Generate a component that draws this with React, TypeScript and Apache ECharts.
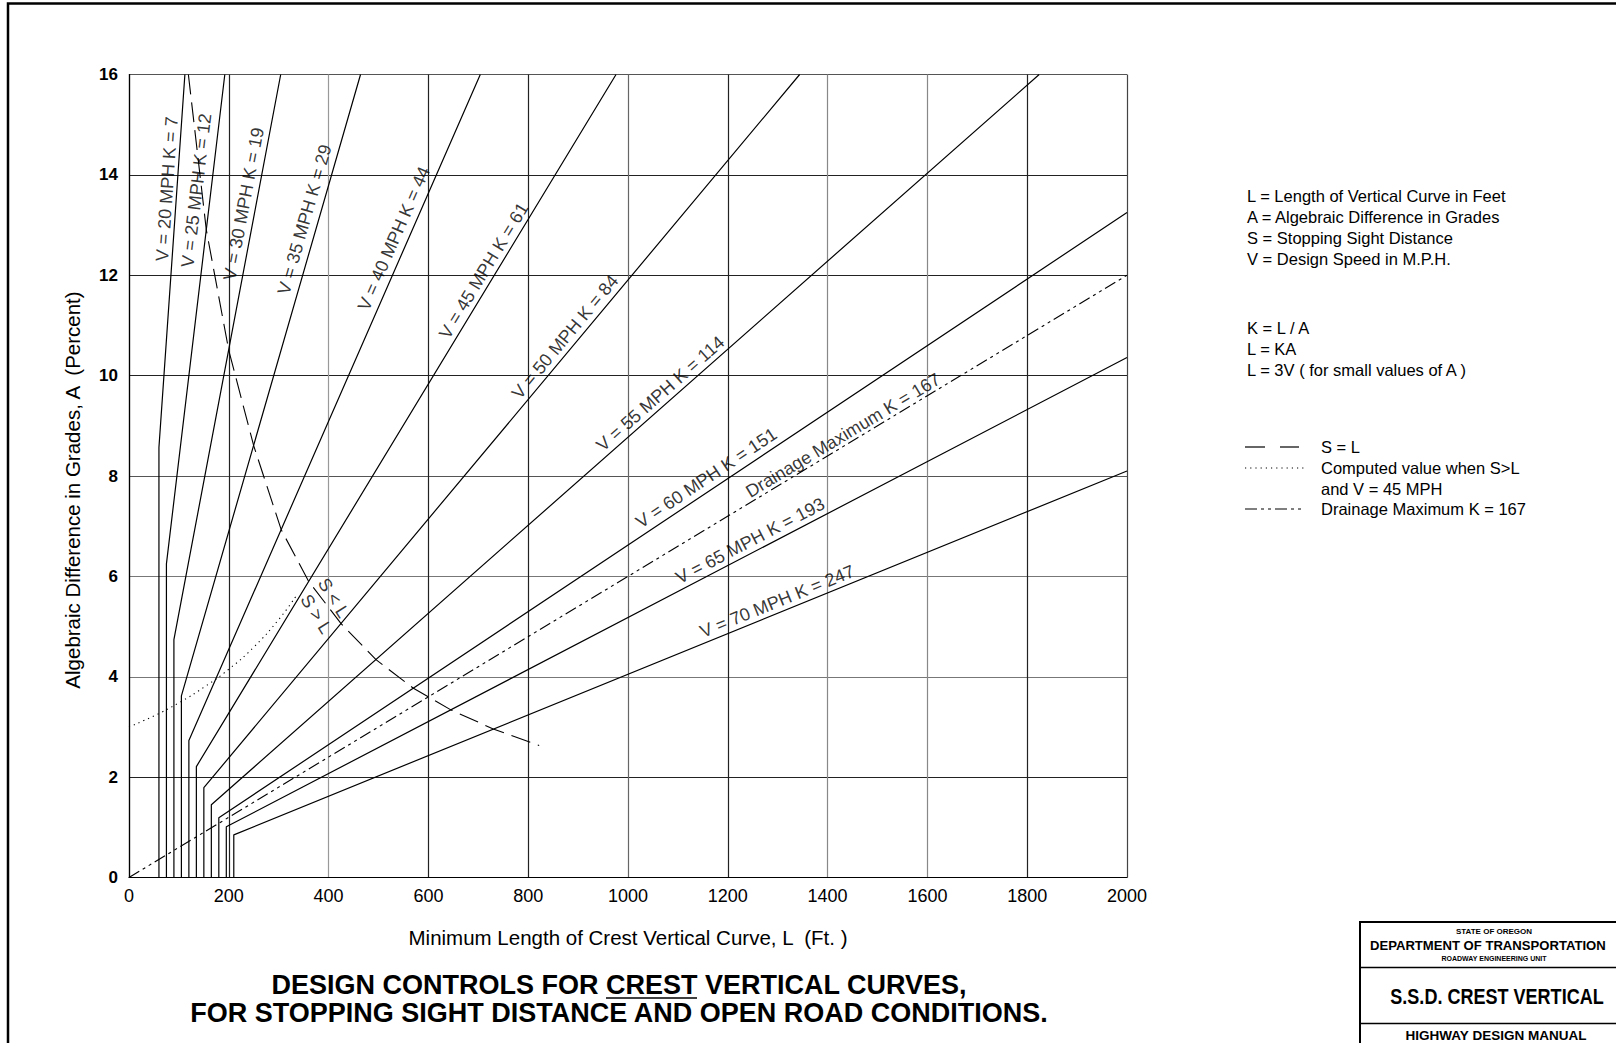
import React, { useEffect, useRef } from "react";
import * as echarts from "echarts";

// ---------- data ----------
const xTicks = [0, 200, 400, 600, 800, 1000, 1200, 1400, 1600, 1800, 2000];
const yTicks = [0, 2, 4, 6, 8, 10, 12, 14, 16];

const speeds = [20, 25, 30, 35, 40, 45, 50, 55, 60, 65, 70];
const kValues = [7, 12, 19, 29, 44, 61, 84, 114, 151, 193, 247];
// L = 3V vertical part (small A)
const baseL = [60, 75, 90, 105, 120, 135, 150, 165, 180, 195, 210];
// A where the vertical turns into the L = KA line
const kneeA = [8.57, 6.25, 4.74, 3.62, 2.73, 2.21, 1.79, 1.45, 1.19, 1.01, 0.85];
// where each line leaves the plot
const endL = [112, 192, 304, 464, 704, 976, 1344, 1824, 2000, 2000, 2000];
const endA = [16, 16, 16, 16, 16, 16, 16, 16, 13.25, 10.36, 8.1];
// label centres along each line
const labelL = [76, 135, 230, 352, 531, 711, 874, 1065, 1157, 1245, 1299];
const labelA = [13.72, 13.69, 13.42, 13.11, 12.73, 12.09, 10.77, 9.64, 7.96, 6.71, 5.5];

const drainageK = 167;
const drainageL = [0, 2000];
const drainageA = [0, 12.0];
const drainageLabelPos = [1431, 8.81];

const sEqLL = [119, 155, 200, 250, 305, 360, 425, 495, 570, 645, 730, 822];
const sEqLA = [16, 12.9, 10.5, 8.6, 6.93, 5.9, 5.06, 4.34, 3.77, 3.34, 2.96, 2.63];

const computedL = [0, 50, 100, 150, 200, 250, 300, 335];
const computedA = [3.0, 3.22, 3.48, 3.79, 4.15, 4.59, 5.14, 5.61];

const sLabels = ["S > L", "S < L"];
const sLabelL = [375, 410];
const sLabelA = [5.25, 5.57];

const notesTop = [
  "L = Length of Vertical Curve in Feet",
  "A = Algebraic Difference in Grades",
  "S = Stopping Sight Distance",
  "V = Design Speed in M.P.H.",
];
const notesMid = ["K = L / A", "L = KA", "L = 3V ( for small values of A )"];
const notesKey = ["S = L", "Computed value when S>L", "and V = 45 MPH", "Drainage Maximum K = 167"];

// ---------- layout ----------
const FONT = "'Liberation Sans', Arial, Helvetica, sans-serif";
const GL = 129;
const GT = 74.5;
const GW = 998;
const GH = 803;

export default function App() {
  const ref = useRef<HTMLDivElement>(null);

  useEffect(() => {
    if (!ref.current) return;
    const chart = echarts.init(ref.current, undefined, { renderer: "svg" });

    const pxPerL = GW / (xTicks[xTicks.length - 1] - xTicks[0]);
    const pxPerA = GH / (yTicks[yTicks.length - 1] - yTicks[0]);
    const angleFor = (k: number) => (Math.atan2(pxPerA, pxPerL * k) * 180) / Math.PI;

    const lineStyle = { color: "#000", width: 1.2 };

    const speedSeries = speeds.map((v, i) => ({
      type: "line",
      name: `V${v}`,
      data: [
        [baseL[i], 0],
        [baseL[i], kneeA[i]],
        [endL[i], endA[i]],
      ],
      symbol: "none",
      lineStyle,
      silent: true,
      z: 3,
    }));

    const labelData: any[] = speeds.map((v, i) => ({
      value: [labelL[i], labelA[i]],
      label: {
        formatter: `V = ${v} MPH K = ${kValues[i]}`,
        rotate: angleFor(kValues[i]),
      },
    }));
    labelData.push({
      value: drainageLabelPos,
      label: { formatter: `Drainage Maximum K = ${drainageK}`, rotate: angleFor(drainageK) },
    });
    sLabels.forEach((t, i) => {
      labelData.push({
        value: [sLabelL[i], sLabelA[i]],
        label: { formatter: t, rotate: -58 },
      });
    });

    const xGridColors = ["#222", "#222", "#999", "#222", "#222", "#666", "#222", "#888", "#888", "#222", "#444"];
    const yGridColors = ["#222", "#222", "#777", "#777", "#555", "#222", "#222", "#222", "#555"];

    const textEl = (
      text: string,
      x: number,
      y: number,
      size: number,
      opts: any = {}
    ) => ({
      type: "text",
      x,
      y,
      scaleX: opts.scaleX ?? 1,
      rotation: opts.rotation ?? 0,
      silent: true,
      style: {
        text,
        fill: "#000",
        fontFamily: FONT,
        fontSize: size,
        fontWeight: opts.weight ?? "normal",
        textAlign: opts.align ?? "left",
        textVerticalAlign: "middle",
      },
      z: 10,
    });

    const graphics: any[] = [];
    // page frame
    graphics.push({
      type: "polyline",
      shape: { points: [[8, 1043], [8, 3.5], [1616, 3.5]] },
      style: { stroke: "#000", lineWidth: 2.5, fill: "none" },
      silent: true,
    });
    // y axis title
    graphics.push(
      textEl("Algebraic Difference in Grades, A  (Percent)", 72, 490, 20.5, { align: "center", rotation: Math.PI / 2 })
    );
    // title
    graphics.push(textEl("DESIGN CONTROLS FOR CREST VERTICAL CURVES,", 619, 985, 27, { weight: "bold", align: "center" }));
    graphics.push(
      textEl("FOR STOPPING SIGHT DISTANCE AND OPEN ROAD CONDITIONS.", 619, 1013, 27, { weight: "bold", align: "center" })
    );
    graphics.push({
      type: "line",
      shape: { x1: 606, y1: 998, x2: 697, y2: 998 },
      style: { stroke: "#000", lineWidth: 1.6 },
      silent: true,
    });
    // notes
    const notesTopY = [196, 217, 238, 259];
    notesTop.forEach((t, i) => graphics.push(textEl(t, 1247, notesTopY[i], 16.5)));
    const notesMidY = [328, 349, 370];
    notesMid.forEach((t, i) => graphics.push(textEl(t, 1247, notesMidY[i], 16.5)));
    const notesKeyY = [447, 468, 489, 509];
    notesKey.forEach((t, i) => graphics.push(textEl(t, 1321, notesKeyY[i], 16.5)));
    // key samples
    graphics.push({ type: "line", shape: { x1: 1245, y1: 447, x2: 1265, y2: 447 }, style: { stroke: "#000", lineWidth: 1.2 } });
    graphics.push({ type: "line", shape: { x1: 1280, y1: 447, x2: 1299, y2: 447 }, style: { stroke: "#000", lineWidth: 1.2 } });
    graphics.push({
      type: "line",
      shape: { x1: 1245, y1: 468, x2: 1305, y2: 468 },
      style: { stroke: "#000", lineWidth: 1, lineDash: [1.2, 4] },
    });
    graphics.push({
      type: "line",
      shape: { x1: 1245, y1: 509, x2: 1305, y2: 509 },
      style: { stroke: "#000", lineWidth: 1.2, lineDash: [12, 4, 3, 4, 3, 4] },
    });
    // title block
    graphics.push({
      type: "rect",
      shape: { x: 1360, y: 922, width: 320, height: 200 },
      style: { stroke: "#000", lineWidth: 2, fill: "none" },
      silent: true,
    });
    graphics.push({ type: "line", shape: { x1: 1360, y1: 967.5, x2: 1616, y2: 967.5 }, style: { stroke: "#000", lineWidth: 1.6 } });
    graphics.push({ type: "line", shape: { x1: 1360, y1: 1023.5, x2: 1616, y2: 1023.5 }, style: { stroke: "#000", lineWidth: 1.6 } });
    graphics.push(textEl("STATE OF OREGON", 1494, 931, 8, { weight: "bold", align: "center" }));
    graphics.push(textEl("DEPARTMENT OF TRANSPORTATION", 1370, 945, 13.1, { weight: "bold", align: "left" }));
    graphics.push(textEl("ROADWAY ENGINEERING UNIT", 1494, 958.5, 7, { weight: "bold", align: "center" }));
    graphics.push(textEl("S.S.D. CREST VERTICAL", 1497, 996, 22, { weight: "bold", align: "center", scaleX: 0.82 }));
    graphics.push(textEl("HIGHWAY DESIGN MANUAL", 1496, 1035.5, 13.5, { weight: "bold", align: "center" }));

    const option: any = {
      animation: false,
      backgroundColor: "#fff",
      textStyle: { fontFamily: FONT },
      grid: { left: GL, top: GT, width: GW, height: GH, show: false },
      xAxis: {
        type: "value",
        min: xTicks[0],
        max: xTicks[xTicks.length - 1],
        interval: xTicks[1] - xTicks[0],
        name: "Minimum Length of Crest Vertical Curve, L  (Ft. )",
        nameLocation: "middle",
        nameGap: 49,
        nameTextStyle: { fontSize: 20.5, color: "#000", fontFamily: FONT },
        axisLine: { show: true, lineStyle: { color: "#000", width: 1.2 } },
        axisTick: { show: false },
        axisLabel: {
          fontSize: 18,
          color: "#000",
          margin: 9,
          fontFamily: FONT,
          formatter: (v: number) => String(v),
        },
        splitLine: { show: true, lineStyle: { color: xGridColors, width: 1.2 } },
      },
      yAxis: {
        type: "value",
        min: yTicks[0],
        max: yTicks[yTicks.length - 1],
        interval: yTicks[1] - yTicks[0],
        axisLine: { show: true, lineStyle: { color: "#000", width: 1.2 } },
        axisTick: { show: false },
        axisLabel: {
          fontSize: 17,
          fontWeight: "bold",
          color: "#000",
          margin: 11,
          fontFamily: FONT,
          formatter: (v: number) => String(v),
        },
        splitLine: { show: true, lineStyle: { color: yGridColors, width: 1.2 } },
      },
      series: [
        ...speedSeries,
        {
          type: "line",
          name: "Drainage",
          data: drainageL.map((l, i) => [l, drainageA[i]]),
          symbol: "none",
          lineStyle: { color: "#000", width: 1.1, type: [12, 4, 3, 4, 3, 4] },
          silent: true,
          z: 3,
        },
        {
          type: "line",
          name: "S=L",
          data: sEqLL.map((l, i) => [l, sEqLA[i]]),
          symbol: "none",
          lineStyle: { color: "#000", width: 1.1, type: [20, 8] },
          silent: true,
          z: 3,
        },
        {
          type: "line",
          name: "Computed",
          data: computedL.map((l, i) => [l, computedA[i]]),
          symbol: "none",
          smooth: true,
          lineStyle: { color: "#000", width: 1.1, type: [1.2, 4] },
          silent: true,
          z: 3,
        },
        {
          type: "scatter",
          name: "labels",
          data: labelData,
          symbolSize: 0,
          silent: true,
          z: 5,
          label: {
            show: true,
            position: "inside",
            color: "#000",
            fontSize: 18,
            fontFamily: FONT,
            align: "center",
            verticalAlign: "middle",
          },
        },
      ],
      graphic: graphics,
    };

    chart.setOption(option);
    return () => chart.dispose();
  }, []);

  return (
    <div
      ref={ref}
      style={{ position: "fixed", left: 0, top: 0, width: 1616, height: 1043, background: "#fff" }}
    />
  );
}
